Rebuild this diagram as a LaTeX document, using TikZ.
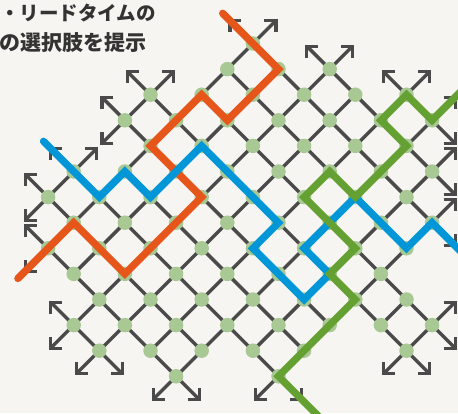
\documentclass[tikz,border=0pt]{standalone}
\usepackage{fontspec}
\newfontfamily\cjk{Noto Sans CJK JP}
\usetikzlibrary{arrows.meta}
\definecolor{bgc}{HTML}{F7F5F2}
\definecolor{latc}{HTML}{4A4A4A}
\definecolor{dotc}{HTML}{A8C894}
\definecolor{orc}{HTML}{E6551A}
\definecolor{blc}{HTML}{0096D7}
\definecolor{grc}{HTML}{64A032}
\definecolor{txc}{HTML}{333333}
\tikzset{
  lat/.style={draw=latc, line width=3.4pt},
  arrhead/.style={draw=latc, line width=3.2pt, line join=miter},
  dot/.style={circle, fill=dotc, inner sep=0pt, minimum size=14.5pt},
  route/.style={line width=7.3pt, line cap=round, line join=miter},
  orroute/.style={route, draw=orc},
  blroute/.style={route, draw=blc},
  grroute/.style={route, draw=grc},
  lbl/.style={anchor=base west, inner sep=0pt, text=txc}
}
\newcommand\LX[1]{150.5+25.6*(#1)}
\newcommand\LY[1]{43.5+25.6*(#1)}
\begin{document}
\begin{tikzpicture}[x=1pt,y=-1pt]
\useasboundingbox (0,0) rectangle (458,413);
\fill[bgc] (0,0) rectangle (458,413);
\clip (0,0) rectangle (458,413);
% lattice points
\foreach \j/\lst in {0/{4},1/{3,5,7},2/{0,2,4,6,8,10},3/{-1,1,3,5,7,9,11},
  4/{0,2,4,6,8,10},5/{-3,-1,1,3,5,7,9,11},6/{-4,-2,0,2,4,6,8,10},
  7/{-3,-1,1,3,5,7,9,11},8/{-4,-2,0,2,4,6,8,10},9/{-3,-1,1,3,5,7,9},
  10/{-2,0,2,4,6,8,10},11/{-3,-1,1,3,5,7,9,11},12/{-2,0,2,4,6,10},13/{1,5}}{
  \foreach \i in \lst {\coordinate (n\i_\j) at ({\LX{\i}},{\LY{\j}});}
}
% lattice edges
\foreach \j/\lst in {0/{4},1/{3,5,7},2/{0,2,4,6,8,10},3/{-1,1,3,5,7,9,11},
  4/{0,2,4,6,8,10},5/{-3,-1,1,3,5,7,9,11},6/{-4,-2,0,2,4,6,8,10},
  7/{-3,-1,1,3,5,7,9,11},8/{-4,-2,0,2,4,6,8,10},9/{-3,-1,1,3,5,7,9},
  10/{-2,0,2,4,6,8,10},11/{-3,-1,1,3,5,7,9,11},12/{-2,0,2,4,6,10},13/{1,5}}{
  \foreach \i in \lst {
    \pgfmathtruncatemacro\ip{\i+1}
    \pgfmathtruncatemacro\im{\i-1}
    \pgfmathtruncatemacro\jp{\j+1}
    \ifcsname pgf@sh@ns@n\ip_\jp\endcsname \draw[lat] (n\i_\j) -- (n\ip_\jp);\fi
    \ifcsname pgf@sh@ns@n\im_\jp\endcsname \draw[lat] (n\i_\j) -- (n\im_\jp);\fi
  }
}
% boundary arrows (shaft plus open 90-degree head)
\foreach \i/\j/\dx/\dy [count=\k] in {4/0/-1/-1,4/0/1/-1,7/1/-1/-1,7/1/1/-1,0/2/-1/-1,0/2/1/-1,
  10/2/-1/-1,10/2/1/-1,-1/3/-1/-1,-1/3/-1/1,11/3/1/-1,11/3/1/1,-3/5/-1/-1,-3/5/1/-1,
  11/5/1/-1,11/5/1/1,-4/6/-1/-1,-4/6/-1/1,11/7/1/-1,11/7/1/1,-4/8/-1/-1,-4/8/-1/1,
  -3/11/-1/-1,-3/11/-1/1,11/11/1/-1,11/11/1/1,-2/12/-1/1,-2/12/1/1,10/12/-1/1,10/12/1/1,
  1/13/-1/1,1/13/1/1,5/13/-1/1,5/13/1/1}{
  \coordinate (a\k) at ([shift={(23*\dx,23*\dy)}]n\i_\j);
  \coordinate (h\k) at ([shift={(-11.5*\dx,0)}]a\k);
  \coordinate (v\k) at ([shift={(0,-11.5*\dy)}]a\k);
  \draw[lat] (n\i_\j) -- (a\k);
  \draw[arrhead] (h\k) -- (a\k) -- (v\k);
}
% dots
\foreach \j/\lst in {0/{4},1/{3,5,7},2/{0,2,4,6,8,10},3/{-1,1,3,5,7,9,11},
  4/{0,2,4,6,8,10},5/{-3,-1,1,3,5,7,9,11},6/{-4,-2,0,2,4,6,8,10},
  7/{-3,-1,1,3,5,7,9,11},8/{-4,-2,0,2,4,6,8,10},9/{-3,-1,1,3,5,7,9},
  10/{-2,0,2,4,6,8,10},11/{-3,-1,1,3,5,7,9,11},12/{-2,0,2,4,6,10},13/{1,5}}{
  \foreach \i in \lst {\node[dot] (d\i_\j) at (n\i_\j) {};}
}
% route end points
\coordinate (oA) at ({\LX{-5.18}},{\LY{9.18}});
\coordinate (oB) at ({\LX{2.82}},{\LY{-1.18}});
\coordinate (bA) at ({\LX{-4.18}},{\LY{3.82}});
\coordinate (bB) at ({\LX{13}},{\LY{9}});
\coordinate (gA) at ({\LX{13}},{\LY{1}});
\coordinate (gB) at ({\LX{7}},{\LY{15}});
% routes
\draw[orroute] (oA) -- (n-4_8) -- (n-3_7) -- (n-1_9) -- (n2_6) -- (n0_4) -- (n2_2)
  -- (n3_3) -- (n5_1) -- (n4_0) -- (oB);
\draw[blroute] (bA) -- (n-3_5) -- (n-2_6) -- (n-1_5) -- (n0_6) -- (n2_4) -- (n5_7)
  -- (n4_8) -- (n6_10) -- (n7_9) -- (n6_8) -- (n8_6) -- (n10_8) -- (n11_7) -- (bB);
\draw[grroute] (gA) -- (n11_3) -- (n10_2) -- (n9_3) -- (n10_4) -- (n8_6) -- (n7_5)
  -- (n6_6) -- (n8_8) -- (n7_9) -- (n8_10) -- (n5_13) -- (gB);
% text
\node[lbl, font=\cjk\bfseries\fontsize{19.5}{22}\selectfont] (t1) at (0,20.5) {・リードタイムの};
\node[lbl, font=\cjk\bfseries\fontsize{21}{24}\selectfont] (t2) at (-1,50) {の選択肢を提示};
\end{tikzpicture}
\end{document}
